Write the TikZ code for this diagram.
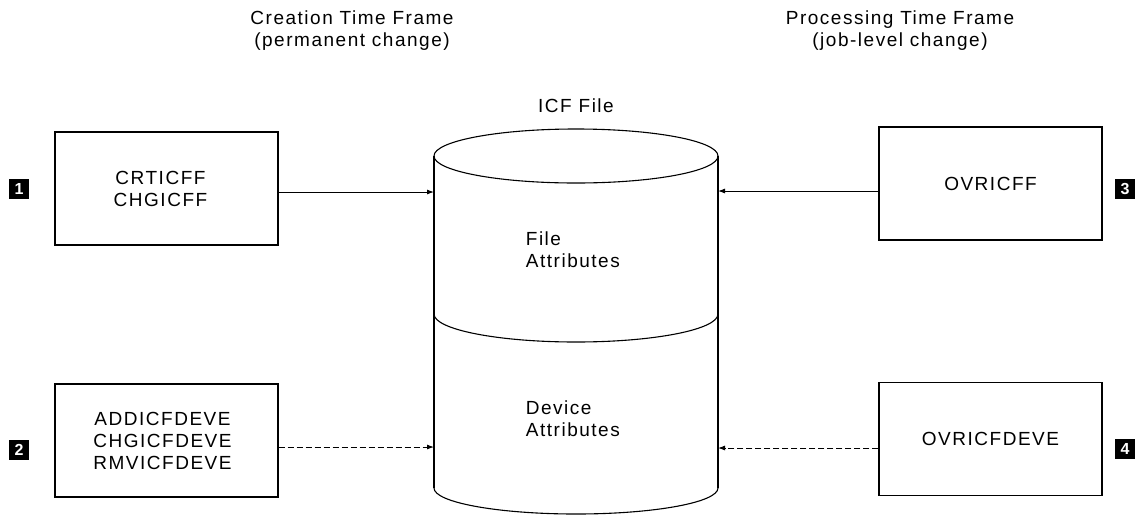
\documentclass[tikz,border=0pt]{standalone}
\usepackage{fontspec}
\setmainfont{Liberation Sans}[LetterSpace=8]
\usetikzlibrary{arrows.meta}
\begin{document}
\begin{tikzpicture}[x=1pt,y=-1pt,
  line width=1.1pt,
  every node/.style={font=\fontsize{19}{22}\selectfont},
  progbox/.style={draw, minimum width=223pt, minimum height=113pt, align=center},
  badge/.style={fill=black, text=white, inner sep=0pt, minimum size=20pt,
    font=\fontsize{16}{16}\selectfont\bfseries},
  flow/.style={-{Latex[length=7pt,width=5pt]}, line width=0.9pt},
  flowdash/.style={flow, dash pattern=on 6pt off 3pt},
  title/.style={align=center}]
\useasboundingbox (0,0) rectangle (1147,515);

% column headings
\node[title] (hc) at (352,31) {Creation Time Frame\\(permanent change)};
\node[title] (hp) at (900,31) {Processing Time Frame\\(job-level change)};

% ICF file cylinder
\node[minimum width=284pt, minimum height=332pt, inner sep=0pt] (db) at (576,322) {};
\draw (576,156) ellipse [x radius=142pt, y radius=27pt];
\draw (434,156) -- (434,488);
\draw (718,156) -- (718,488);
\draw (434,314) arc [start angle=180, end angle=360, x radius=142pt, y radius=28pt];
\draw (434,488) arc [start angle=180, end angle=360, x radius=142pt, y radius=26pt];
\node (icf) at (576,106) {ICF File};
\node[align=left, anchor=west] (fa) at (522,250) {File\\Attributes};
\node[align=left, anchor=west] (da) at (522,419) {Device\\Attributes};

% command boxes
\node[progbox] (b1) at (166.5,188.5) {};
\node[align=center, xshift=-6pt] (t1) at (b1) {CRTICFF\\CHGICFF};
\node[progbox] (b2) at (166.5,440.5) {};
\node[align=center, xshift=-4pt] (t2) at (b2) {ADDICFDEVE\\CHGICFDEVE\\RMVICFDEVE};
\node[progbox] (b3) at (990.5,183.5) {OVRICFF};
\node[progbox] (b4) at (990.5,439) {OVRICFDEVE};

% numbered markers
\node[badge] (n1) at (19,189) {1};
\node[badge] (n2) at (19,450) {2};
\node[badge] (n3) at (1125,189) {3};
\node[badge] (n4) at (1125,449) {4};

% connectors into the cylinder
\coordinate (in1) at (434,192);
\coordinate (in2) at (434,447);
\coordinate (in3) at (718,191);
\coordinate (in4) at (718,448);
\draw[flow] (b1.east |- in1) -- (in1);
\draw[flowdash] (b2.east |- in2) -- (in2);
\draw[flow] (b3.west |- in3) -- (in3);
\draw[flowdash] (b4.west |- in4) -- (in4);
\end{tikzpicture}
\end{document}
